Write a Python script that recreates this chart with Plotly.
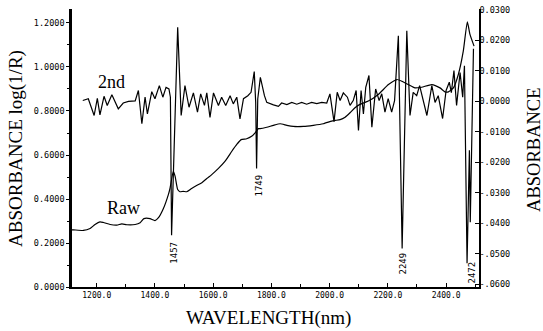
import plotly.graph_objects as go

# Raw spectrum (left axis, log(1/R))
raw_nm = [1115, 1120, 1154, 1177, 1194, 1211, 1223, 1246, 1269, 1286, 1303, 1332, 1349, 1362, 1383,
          1400, 1412, 1429, 1446, 1452, 1463, 1469, 1478, 1486, 1497, 1509, 1526, 1543, 1561, 1578,
          1595, 1618, 1641, 1664, 1681, 1696, 1715, 1732, 1744, 1755, 1761, 1784, 1807, 1830, 1853,
          1875, 1910, 1944, 1978, 2007, 2019, 2036, 2053, 2070, 2087, 2104, 2133, 2167, 2202, 2231,
          2248, 2270, 2293, 2316, 2351, 2379, 2396, 2408, 2425, 2442, 2459, 2473, 2482, 2496]
raw_val = [0.260, 0.260, 0.257, 0.266, 0.284, 0.296, 0.293, 0.284, 0.281, 0.287, 0.283, 0.284, 0.292, 0.311, 0.311,
           0.302, 0.315, 0.357, 0.420, 0.451, 0.526, 0.504, 0.443, 0.433, 0.435, 0.433, 0.448, 0.461, 0.474, 0.493,
           0.511, 0.539, 0.572, 0.617, 0.648, 0.670, 0.674, 0.685, 0.701, 0.720, 0.720, 0.726, 0.735, 0.742, 0.735,
           0.730, 0.730, 0.735, 0.742, 0.754, 0.757, 0.761, 0.772, 0.792, 0.815, 0.830, 0.845, 0.875, 0.920, 0.943,
           0.935, 0.920, 0.905, 0.908, 0.920, 0.905, 0.887, 0.887, 0.905, 0.966, 1.072, 1.205, 1.148, 1.095]

# Second derivative (right axis)
d2_nm = [1152, 1171, 1191, 1202, 1211, 1225, 1236, 1252, 1274, 1291, 1309, 1332, 1343, 1355, 1366,
         1374, 1389, 1400, 1415, 1427, 1438, 1448, 1453, 1457, 1478, 1490, 1503, 1517, 1532, 1546,
         1557, 1570, 1578, 1589, 1601, 1618, 1629, 1643, 1658, 1669, 1681, 1692, 1704, 1719, 1730,
         1741, 1746, 1749, 1753, 1762, 1776, 1784, 1807, 1824, 1835, 1853, 1870, 1887, 1904, 1921,
         1938, 1956, 1973, 1990, 2001, 2015, 2026, 2036, 2047, 2061, 2070, 2081, 2091, 2099, 2108,
         2116, 2124, 2135, 2145, 2158, 2170, 2179, 2190, 2201, 2213, 2223, 2236, 2249, 2265, 2276,
         2287, 2299, 2309, 2334, 2351, 2362, 2373, 2388, 2400, 2411, 2418, 2427, 2436, 2448, 2457,
         2463, 2472, 2480, 2483, 2494]
d2_val = [0.0002, 0.0008, -0.0047, 0.0009, -0.0045, 0.0016, -0.0014, 0.0021, -0.0025, -0.0006, -0.0001, 0.0001, 0.0035, -0.0074, 0.0013,
          -0.0042, 0.0031, 0.0008, 0.0051, 0.0013, 0.0045, 0.0040, 0.0013, -0.0439, 0.0242, -0.0047, 0.0051, -0.0020, 0.0027, -0.0036,
          0.0024, -0.0014, 0.0027, -0.0053, 0.0027, -0.0014, 0.0013, -0.0014, 0.0018, -0.0009, 0.0013, -0.0058, 0.0008, 0.0018, 0.0029,
          0.0097, -0.0004, -0.0221, 0.0007, 0.0078, 0.0018, -0.0004, -0.0012, -0.0017, -0.0006, -0.0011, -0.0004, -0.0010, -0.0004, -0.0010,
          -0.0004, -0.0008, -0.0004, -0.0006, 0.0024, -0.0067, 0.0029, 0.0002, 0.0027, 0.0013, -0.0014, 0.0002, 0.0035, -0.0096, 0.0035,
          -0.0042, 0.0045, 0.0084, -0.0085, 0.0040, 0.0002, 0.0024, -0.0036, 0.0008, -0.0036, 0.0002, 0.0214, -0.0483, 0.0231, -0.0047,
          0.0029, 0.0018, 0.0051, -0.0047, 0.0051, -0.0004, 0.0018, -0.0057, 0.0035, 0.0062, 0.0028, 0.0100, -0.0014, 0.0094, 0.0013,
          0.0116, -0.0531, -0.0161, -0.0397, 0.0172]

# Peak labels (wavelength text, label anchor x, label anchor y on left axis)
peak_text = ["1457", "1749", "2249", "2472"]
peak_x = [1466, 1757, 2252, 2489]
peak_y = [0.157, 0.461, 0.107, 0.066]

right_tickvals = [-0.06, -0.05, -0.04, -0.03, -0.02, -0.01, 0.0, 0.01, 0.02, 0.03]
right_ticktext = ["-.0600", "-.0500", "-.0400", "-.0300", "-.0200", "-.0100",
                  "0.0000", "0.0100", "0.0200", "0.0300"]

mono = "DejaVu Sans Mono"
serif = "Liberation Serif"

fig = go.Figure()
fig.add_trace(go.Scatter(x=raw_nm, y=raw_val, mode="lines", yaxis="y",
                         line=dict(color="black", width=1.2, shape="spline", smoothing=0.5),
                         showlegend=False))
fig.add_trace(go.Scatter(x=d2_nm, y=d2_val, mode="lines", yaxis="y2",
                         line=dict(color="black", width=1.2),
                         showlegend=False))

annotations = [
    dict(text="ABSORBANCE log(1/R)", xref="paper", yref="paper", x=-0.1376, y=0.5,
         textangle=-90, showarrow=False, xanchor="center", yanchor="middle",
         font=dict(family=serif, size=19, color="black")),
    dict(text="ABSORBANCE", xref="paper", yref="paper", x=1.135, y=0.493,
         textangle=-90, showarrow=False, xanchor="center", yanchor="middle",
         font=dict(family=serif, size=18.5, color="black")),
    dict(text="WAVELENGTH(nm)", xref="paper", yref="paper", x=0.484, y=-0.112,
         showarrow=False, xanchor="center", yanchor="middle",
         font=dict(family=serif, size=19, color="black")),
    dict(text="2nd", xref="x", yref="y", x=1251, y=0.934, showarrow=False,
         xanchor="center", yanchor="middle", font=dict(family=serif, size=18, color="black")),
    dict(text="Raw", xref="x", yref="y", x=1293, y=0.361, showarrow=False,
         xanchor="center", yanchor="middle", font=dict(family=serif, size=18, color="black")),
]
for t, px, py in zip(peak_text, peak_x, peak_y):
    annotations.append(dict(text=t, xref="x", yref="y", x=px, y=py, textangle=-90,
                            showarrow=False, xanchor="center", yanchor="middle",
                            font=dict(family=mono, size=9, color="black")))

fig.update_layout(
    width=543, height=331,
    margin=dict(l=72, r=64, t=9, b=44),
    paper_bgcolor="white", plot_bgcolor="white",
    xaxis=dict(range=[1115, 2513], tick0=1200, dtick=200, tickformat=".1f",
               showline=True, linecolor="black", linewidth=1.5,
               ticks="inside", ticklen=4, tickcolor="black", tickwidth=1,
               minor=dict(dtick=100, tick0=1100, ticks="inside", ticklen=3, tickcolor="black"),
               showgrid=False, zeroline=False, automargin=False,
               tickfont=dict(family=mono, size=8, color="black")),
    yaxis=dict(range=[0, 1.2636], tick0=0, dtick=0.2, tickformat=".4f",
               showline=True, linecolor="black", linewidth=2.5,
               ticks="outside", ticklen=3, tickcolor="black",
               minor=dict(dtick=0.1, ticks="outside", ticklen=2, tickcolor="black"),
               showgrid=False, zeroline=False, automargin=False,
               tickfont=dict(family=mono, size=8.5, color="black")),
    yaxis2=dict(overlaying="y", side="right", range=[-0.0609, 0.0302],
                tickvals=right_tickvals, ticktext=right_ticktext,
                showline=True, linecolor="black", linewidth=1.5,
                ticks="inside", ticklen=4, tickcolor="black",
                showgrid=False, zeroline=False, automargin=False,
                ticklabelstandoff=-3,
                tickfont=dict(family=mono, size=8.5, color="black")),
    annotations=annotations,
)

fig.write_html("out.html", config={"displayModeBar": False},
               post_script="document.body.style.margin='0px';document.body.style.padding='0px';")
